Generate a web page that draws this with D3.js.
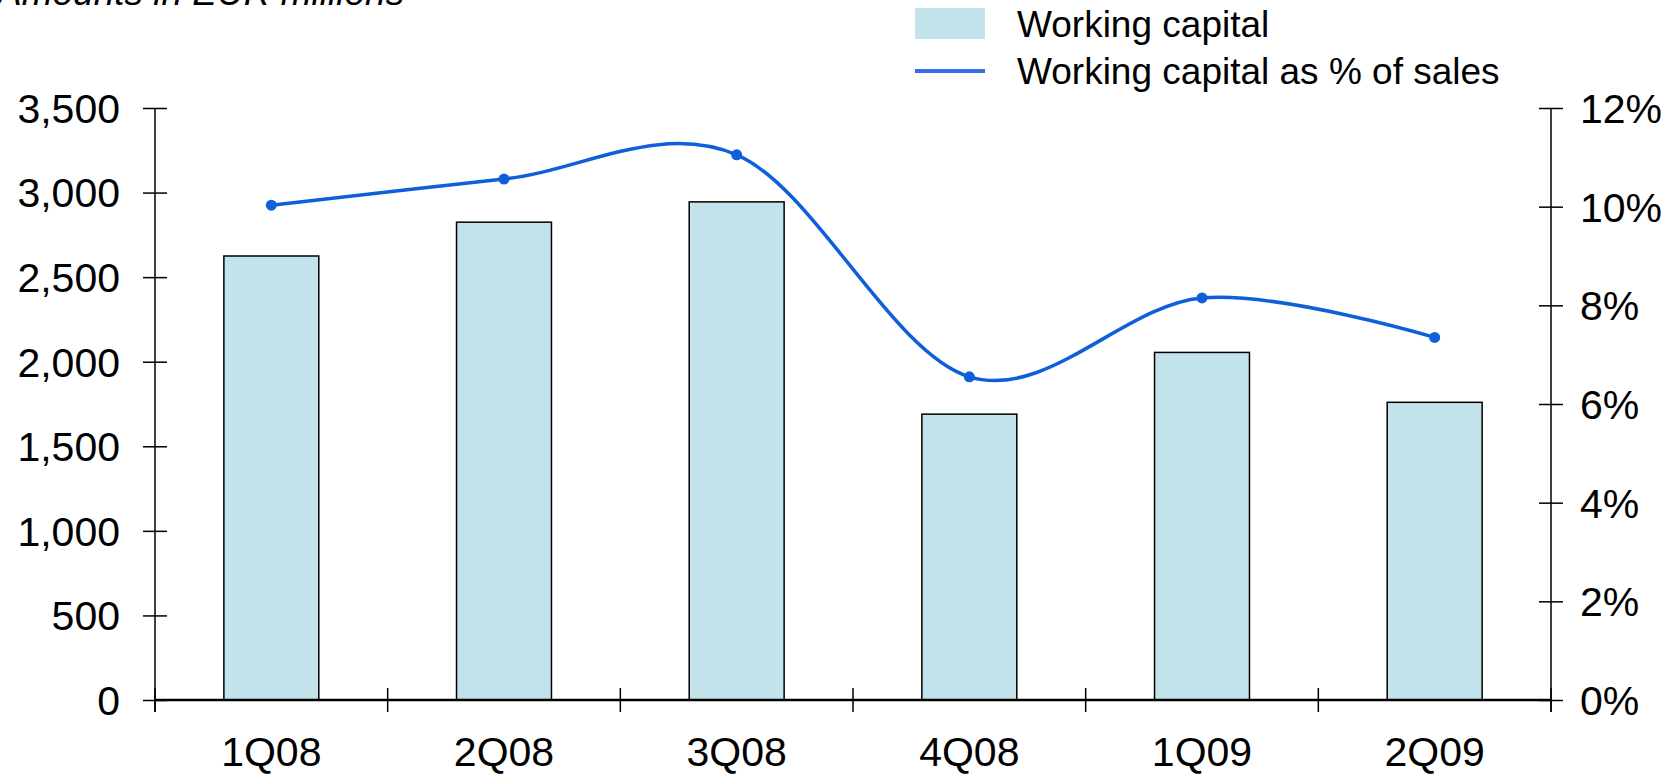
<!DOCTYPE html>
<html>

<head>
  <title>Working capital</title>
  <script src="https://d3js.org/d3.v7.min.js"></script>
  <style>
    body { margin: 0; background: #fff; }
    text { font-family: "Liberation Sans", Arial, sans-serif; fill: #000; }
  </style>
</head>

<body>
  <div id="chart"></div>
  <script type="text/javascript">
    // values
    var quarters = ["1Q08", "2Q08", "3Q08", "4Q08", "1Q09", "2Q09"];
    var workingCapital = [2625, 2825, 2945, 1690, 2055, 1760];
    var wcPctSales = [10.03, 10.56, 11.05, 6.55, 8.15, 7.35];
    var leftTicks = [0, 500, 1000, 1500, 2000, 2500, 3000, 3500];
    var rightTicks = [0, 2, 4, 6, 8, 10, 12];
    var legendLabels = ["Working capital", "Working capital as % of sales"];
    var unitsLabel = "Amounts in EUR millions";

    var W = 1675, H = 776;
    var margin = { top: 108, right: 124, bottom: 76, left: 155 };
    var width = W - margin.left - margin.right;
    var height = H - margin.top - margin.bottom;
    var barFill = "#c2e3eb";
    var lineColor = "#0f5fdb";
    var fontSize = 41;

    var svg = d3.select("#chart").append("svg")
      .attr("width", W)
      .attr("height", H);

    var g = svg.append("g")
      .attr("transform", "translate(" + margin.left + "," + margin.top + ")");

    var x = d3.scaleBand()
      .domain(quarters)
      .range([0, width])
      .paddingInner(0.592)
      .paddingOuter(0.296);
    var y = d3.scaleLinear().domain([0, 3500]).range([height, 0]);
    var y2 = d3.scaleLinear().domain([0, 12]).range([height, 0]);

    // bars
    g.selectAll(".bar").data(quarters)
      .enter().append("rect")
      .attr("class", "bar")
      .attr("x", function (d) { return x(d); })
      .attr("width", x.bandwidth())
      .attr("y", function (d, i) { return y(workingCapital[i]); })
      .attr("height", function (d, i) { return height - y(workingCapital[i]); })
      .attr("fill", barFill)
      .attr("stroke", "#000")
      .attr("stroke-width", 1.5);

    // left axis
    var leftAxis = g.append("g")
      .call(d3.axisLeft(y).tickValues(leftTicks).tickSize(12).tickPadding(23)
        .tickFormat(d3.format(",")));
    leftAxis.select(".domain").remove();
    leftAxis.selectAll("line").attr("x1", -12).attr("x2", 12).attr("stroke-width", 1.5);
    leftAxis.selectAll("text").attr("font-size", fontSize).attr("dy", "0.35em");
    leftAxis.append("line").attr("x1", 0).attr("x2", 0).attr("y1", 0).attr("y2", height + 12)
      .attr("stroke", "#000").attr("stroke-width", 1.5);

    // right axis
    var rightAxis = g.append("g")
      .attr("transform", "translate(" + width + ",0)")
      .call(d3.axisRight(y2).tickValues(rightTicks).tickSize(12).tickPadding(17)
        .tickFormat(function (d) { return d + "%"; }));
    rightAxis.select(".domain").remove();
    rightAxis.selectAll("line").attr("x1", -12).attr("x2", 12).attr("stroke-width", 1.5);
    rightAxis.selectAll("text").attr("font-size", fontSize).attr("dy", "0.35em");
    rightAxis.append("line").attr("x1", 0).attr("x2", 0).attr("y1", 0).attr("y2", height + 12)
      .attr("stroke", "#000").attr("stroke-width", 1.5);

    // category axis, ticks sit on the band boundaries
    var step = x.step();
    var bounds = d3.range(quarters.length + 1).map(function (i) { return i * step; });
    var bottom = g.append("g").attr("transform", "translate(0," + height + ")");
    bottom.append("line").attr("x1", 0).attr("x2", width)
      .attr("stroke", "#000").attr("stroke-width", 2.5);
    bottom.selectAll(".xtick").data(bounds)
      .enter().append("line")
      .attr("class", "xtick")
      .attr("x1", function (d) { return d; })
      .attr("x2", function (d) { return d; })
      .attr("y1", -12).attr("y2", 12)
      .attr("stroke", "#000").attr("stroke-width", 1.5);
    bottom.selectAll(".xlabel").data(quarters)
      .enter().append("text")
      .attr("class", "xlabel")
      .attr("x", function (d) { return x(d) + x.bandwidth() / 2; })
      .attr("y", 66)
      .attr("text-anchor", "middle")
      .attr("font-size", fontSize)
      .text(function (d) { return d; });

    // smoothed % line
    var line = d3.line()
      .x(function (d, i) { return x(quarters[i]) + x.bandwidth() / 2; })
      .y(function (d) { return y2(d); })
      .curve(d3.curveCardinal.tension(0));
    g.append("path")
      .datum(wcPctSales)
      .attr("d", line)
      .attr("fill", "none")
      .attr("stroke", lineColor)
      .attr("stroke-width", 3.5);
    g.selectAll(".dot").data(wcPctSales)
      .enter().append("circle")
      .attr("class", "dot")
      .attr("cx", function (d, i) { return x(quarters[i]) + x.bandwidth() / 2; })
      .attr("cy", function (d) { return y2(d); })
      .attr("r", 5.5)
      .attr("fill", lineColor);

    // units label, cut off at the top edge like the source
    svg.append("text")
      .attr("x", -3)
      .attr("y", 5)
      .attr("font-size", 37)
      .attr("font-style", "italic")
      .text(unitsLabel);

    // legend
    var legend = svg.append("g").attr("transform", "translate(915,0)");
    legend.append("rect")
      .attr("x", 0).attr("y", 8)
      .attr("width", 70).attr("height", 31)
      .attr("fill", barFill);
    legend.append("line")
      .attr("x1", 0).attr("x2", 70).attr("y1", 71).attr("y2", 71)
      .attr("stroke", "#3a6cf0").attr("stroke-width", 4);
    legend.selectAll(".leg").data(legendLabels)
      .enter().append("text")
      .attr("class", "leg")
      .attr("x", 102)
      .attr("y", function (d, i) { return 24 + i * 47; })
      .attr("dy", "0.35em")
      .attr("font-size", 37)
      .text(function (d) { return d; });
  </script>
</body>

</html>
